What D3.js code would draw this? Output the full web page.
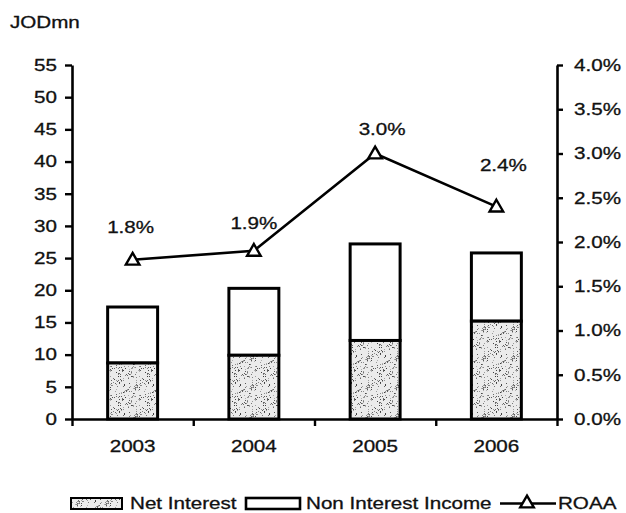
<!DOCTYPE html>
<html>
<head>
<meta charset="utf-8">
<script src="https://cdn.jsdelivr.net/npm/d3@7"></script>
<style>
  html, body { margin: 0; padding: 0; background: #fff; }
  svg { display: block; }
  text { font-family: "Liberation Sans", Arial, sans-serif; fill: #111; stroke: #111; stroke-width: 0.3px; }
</style>
</head>
<body>
<svg id="chart" width="626" height="513"></svg>
<script>
// Income split (JODmn) and return on average assets by year
const categories = ["2003", "2004", "2005", "2006"];
const netInterest = [8.7, 9.9, 12.2, 15.2];
const nonInterestIncome = [8.7, 10.4, 15.0, 10.6];
const roaa = [1.8, 1.9, 3.0, 2.4];
const leftTicks = [0, 5, 10, 15, 20, 25, 30, 35, 40, 45, 50, 55];
const rightTicks = [0, 0.5, 1.0, 1.5, 2.0, 2.5, 3.0, 3.5, 4.0];

// label nudges for the ROAA value labels: [dx, dy] relative to each point
const roaaLabelNudge = [[-2, -27], [0, -22], [7, -18], [7, -36]];

const FS = 16.5;      // base font size
const SX = 1.25;      // horizontal glyph stretch of the typeface
const plot = { left: 72, right: 557, top: 65, bottom: 419 };

const svg = d3.select("#chart");

// stippled fill for the net-interest segments
const defs = svg.append("defs");
const pat = defs.append("pattern")
  .attr("id", "stipple").attr("patternUnits", "userSpaceOnUse")
  .attr("width", 29).attr("height", 29);
pat.append("rect").attr("width", 29).attr("height", 29).attr("fill", "#ebebeb");
let seed = 12345;
const rnd = () => { seed = (seed * 1103515245 + 12345) % 2147483648; return seed / 2147483648; };
for (let i = 0; i < 130; i++) {
  const g = Math.floor(60 + rnd() * 120);
  pat.append("rect")
    .attr("x", Math.floor(rnd() * 29)).attr("y", Math.floor(rnd() * 29))
    .attr("width", 1).attr("height", 1)
    .attr("fill", `rgb(${g},${g},${g})`);
}

const x = d3.scaleBand().domain(categories)
  .range([plot.left, plot.right]).paddingInner(0.588).paddingOuter(0.294);
const xEdges = d3.scaleLinear().domain([0, categories.length]).range([plot.left, plot.right]);
const yL = d3.scaleLinear().domain([0, 55]).range([plot.bottom, plot.top]);
const yR = d3.scaleLinear().domain([0, 4]).range([plot.bottom, plot.top]);

// stretched text helper
function stretch(sel, dx) {
  sel.each(function () {
    const t = d3.select(this);
    const xv = +(t.attr("x") || 0);
    t.attr("x", (xv + (dx || 0)) / SX).attr("transform", `scale(${SX},1)`);
  });
}

// bars
const stack = categories.map((c, i) => ({
  c, ni: netInterest[i], nii: nonInterestIncome[i]
}));
const bars = svg.append("g");
bars.selectAll("rect.nii").data(stack).join("rect")
  .attr("class", "nii")
  .attr("x", d => x(d.c)).attr("width", x.bandwidth())
  .attr("y", d => yL(d.ni + d.nii)).attr("height", d => yL(d.ni) - yL(d.ni + d.nii))
  .attr("fill", "#fff").attr("stroke", "#000").attr("stroke-width", 3);
bars.selectAll("rect.ni").data(stack).join("rect")
  .attr("class", "ni")
  .attr("x", d => x(d.c)).attr("width", x.bandwidth())
  .attr("y", d => yL(d.ni)).attr("height", d => yL(0) - yL(d.ni))
  .attr("fill", "url(#stipple)").attr("stroke", "#000").attr("stroke-width", 3);

// axes
const axisStyle = g => {
  g.select(".domain").attr("stroke", "#000").attr("stroke-width", 2.6);
  g.selectAll(".tick line").attr("stroke", "#000").attr("stroke-width", 2.4);
  g.selectAll("text").attr("font-size", FS).attr("font-family", "Liberation Sans, Arial, sans-serif").attr("fill", "#111");
};

const gL = svg.append("g").attr("transform", `translate(${plot.left},0)`)
  .call(d3.axisLeft(yL).tickValues(leftTicks).tickSize(7).tickSizeOuter(0).tickPadding(8).tickFormat(d3.format("d")))
  .call(axisStyle);
gL.selectAll(".tick text").call(stretch);

const gR = svg.append("g").attr("transform", `translate(${plot.right},0)`)
  .call(d3.axisRight(yR).tickValues(rightTicks).tickSize(6).tickSizeOuter(0).tickPadding(11).tickFormat(d => d.toFixed(1) + "%"))
  .call(axisStyle);
gR.selectAll(".tick text").call(stretch);

svg.append("g").attr("transform", `translate(0,${plot.bottom})`)
  .call(d3.axisBottom(xEdges).tickValues(d3.range(categories.length + 1)).tickSize(7).tickSizeOuter(0).tickFormat(""))
  .call(axisStyle);

// category labels
svg.append("g").selectAll("text").data(categories).join("text")
  .attr("x", d => x(d) + x.bandwidth() / 2).attr("y", 452.5)
  .attr("text-anchor", "middle").attr("font-size", FS)
  .text(d => d)
  .call(stretch);

// y unit label
svg.append("text").attr("x", 10).attr("y", 28).attr("font-size", FS).text("JODmn").call(stretch);

// ROAA line with hollow triangles
const cx = d => x(d) + x.bandwidth() / 2;
const line = d3.line().x((d, i) => cx(categories[i])).y(d => yR(d));
svg.append("path").datum(roaa).attr("d", line)
  .attr("fill", "none").attr("stroke", "#000").attr("stroke-width", 2.6);
const tri = d3.symbol().type(d3.symbolTriangle).size(80);
svg.append("g").selectAll("path").data(roaa).join("path")
  .attr("d", tri)
  .attr("transform", (d, i) => `translate(${cx(categories[i])},${yR(d) + 1})`)
  .attr("fill", "#fff").attr("stroke", "#000").attr("stroke-width", 2.4);

svg.append("g").selectAll("text").data(roaa).join("text")
  .attr("x", (d, i) => cx(categories[i]) + roaaLabelNudge[i][0])
  .attr("y", (d, i) => yR(d) + roaaLabelNudge[i][1])
  .attr("text-anchor", "middle").attr("font-size", FS)
  .text(d => d.toFixed(1) + "%")
  .call(stretch);

// legend
const lg = svg.append("g");
const ly = 503.5;
lg.append("rect").attr("x", 71).attr("y", ly - 5.5).attr("width", 51).attr("height", 11)
  .attr("fill", "url(#stipple)").attr("stroke", "#000").attr("stroke-width", 2);
lg.append("text").attr("x", 130).attr("y", ly + 5.8).attr("font-size", FS).text("Net Interest").call(stretch);
lg.append("rect").attr("x", 246).attr("y", ly - 5.5).attr("width", 54).attr("height", 11)
  .attr("fill", "#fff").attr("stroke", "#000").attr("stroke-width", 2.6);
lg.append("text").attr("x", 306).attr("y", ly + 5.8).attr("font-size", FS).text("Non Interest Income").call(stretch);
lg.append("line").attr("x1", 500).attr("x2", 556).attr("y1", ly).attr("y2", ly)
  .attr("stroke", "#000").attr("stroke-width", 2.6);
lg.append("path").attr("d", tri).attr("transform", `translate(527,${ly})`)
  .attr("fill", "#fff").attr("stroke", "#000").attr("stroke-width", 2.4);
lg.append("text").attr("x", 558).attr("y", ly + 5.8).attr("font-size", FS).text("ROAA").call(stretch);
</script>
</body>
</html>
